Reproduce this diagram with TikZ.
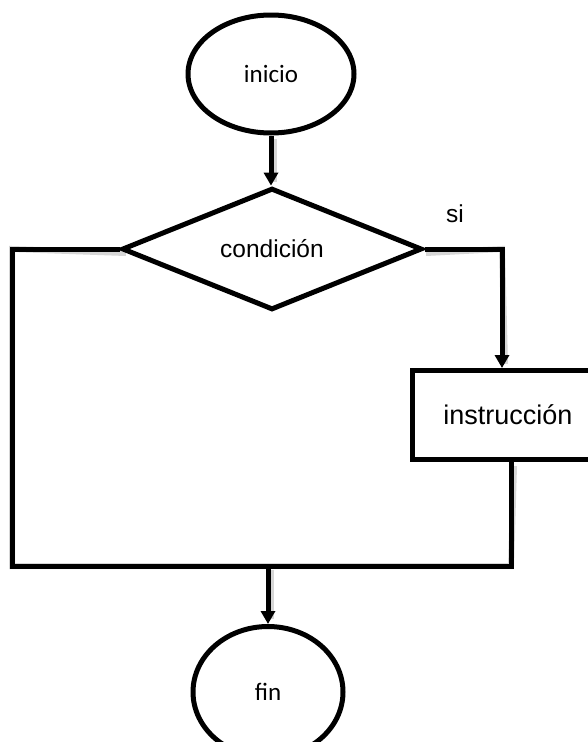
\documentclass[tikz,border=0pt]{standalone}
\usepackage{fontspec}
\setmainfont{Liberation Sans}
\newfontfamily\calib{Carlito}
\usetikzlibrary{shapes.geometric,arrows.meta}
\tikzset{
  shape line/.style={draw=black, line width=5pt, fill=white, inner sep=0pt},
  terminal/.style={shape line, ellipse, font=\calib\fontsize{25}{30}\selectfont},
  decision/.style={shape line, diamond, font=\fontsize{24.5}{29}\selectfont},
  process/.style={shape line, rectangle, font=\fontsize{27}{31}\selectfont},
  conn/.style={draw=black, line width=5pt},
  arrowconn/.style={conn, -{Triangle[length=13pt,width=14pt]}},
  shade line/.style={draw=black!16, line width=6pt, shift={(3pt,-4pt)}},
  label text/.style={font=\fontsize{24.5}{29}\selectfont, inner sep=0pt}
}
\begin{document}
\begin{tikzpicture}[x=1pt,y=-1pt]
\useasboundingbox (0,0) rectangle (588,742);
\clip (0,0) rectangle (588,742);
\fill[white] (0,0) rectangle (588,742);

% corner coordinates
\coordinate (tl) at (12,249);
\coordinate (bl) at (12,566);
\coordinate (br) at (511,566);
\coordinate (tr) at (502,249);

% shadows of the connector lines
\draw[shade line] (123,249) -- (tl) -- (bl) -- (br) -- (511,462);
\draw[shade line] (423,249) -- (tr) -- (502,360);
\draw[shade line] (271,135) -- (271,178);
\draw[shade line] (268,566) -- (268,615);

% nodes
\node[terminal, minimum width=166pt, minimum height=118pt] (inicio) at (271,74) {inicio};
\node[decision, minimum width=300pt, minimum height=121pt] (cond) at (272,249) {condición};
\node[process, minimum width=192pt, minimum height=89pt] (box) at (508,415) {instrucción};
\node[terminal, minimum width=150pt, minimum height=131pt] (fin) at (268,692) {fin};
\node[label text] (si) at (455,214) {si};

\coordinate (merge) at (fin.north |- bl);

% connectors
\draw[arrowconn] (inicio.south) -- (inicio.south |- cond.north);
\draw[conn, line join=miter] (cond.west) -- (tl) -- (bl) -- (br) -- (box.south -| br);
\draw[arrowconn, line join=miter] (cond.east) -- (tr) -- (box.north -| tr);
\draw[arrowconn] (merge) -- (fin.north);
\end{tikzpicture}
\end{document}
